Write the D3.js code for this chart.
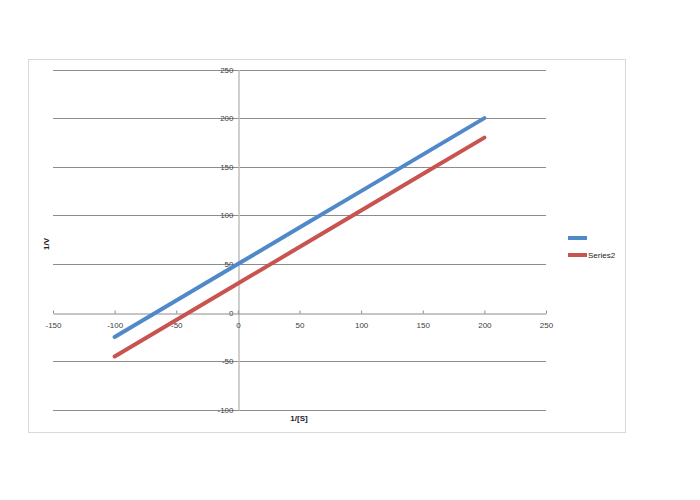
<!DOCTYPE html>
<html><head><meta charset="utf-8">
<script src="https://cdn.jsdelivr.net/npm/d3@7"></script>
<style>body{margin:0;background:#fff}svg{display:block}text{font-family:"Liberation Sans",Arial,sans-serif}</style>
</head><body>
<svg id="c" width="700" height="500"></svg>
<script>
const xValues = [-100, -50, 0, 50, 100, 150, 200];
const series1 = [-25, 12.5, 50, 87.5, 125, 162.5, 200];
const series2 = [-45, -7.5, 30, 67.5, 105, 142.5, 180];
const seriesNames = ["", "Series2"];
const xTicks = [-150, -100, -50, 0, 50, 100, 150, 200, 250];
const yTicks = [-100, -50, 0, 50, 100, 150, 200, 250];
const xTitle = "1/[S]";
const yTitle = "1/V";
const colors = ["#5089C9", "#C9534F"];

const svg = d3.select("#c");
svg.append("rect").attr("x",28.5).attr("y",59.5).attr("width",597).attr("height",373)
  .attr("fill","#fff").attr("stroke","#D9D9D9").attr("stroke-width",1);

const x = d3.scaleLinear().domain([-150,250]).range([53,546]);
const y = d3.scaleLinear().domain([-100,250]).range([410,69.5]);
const fmt = d => String(d);

// gridlines
svg.append("g").selectAll("line").data(yTicks.filter(d=>d!==0)).join("line")
  .attr("x1",x(-150)).attr("x2",x(250))
  .attr("y1",d=>Math.round(y(d))+0.5).attr("y2",d=>Math.round(y(d))+0.5)
  .attr("stroke","#8C8C8C").attr("stroke-width",1);

// y axis at x=0
const yAxis = d3.axisLeft(y).tickValues(yTicks).tickSize(0).tickPadding(5).tickFormat(fmt);
const gy = svg.append("g").attr("transform",`translate(${Math.round(x(0))+0.5},0)`).call(yAxis);
gy.select(".domain").attr("stroke","#BFBFBF").attr("stroke-width",1.5);
gy.selectAll("text").attr("font-size",8).attr("fill","#404040");

// x axis at y=0
const xAxis = d3.axisBottom(x).tickValues(xTicks).tickSize(3).tickSizeOuter(0).tickPadding(6).tickFormat(fmt);
const gx = svg.append("g").attr("transform",`translate(0,${Math.round(y(0))+0.5})`).call(xAxis);
gx.select(".domain").attr("stroke","#8C8C8C");
gx.selectAll(".tick line").attr("stroke","#8C8C8C").attr("y1",-3).attr("y2",0);
gx.selectAll("text").attr("font-size",8).attr("fill","#404040");

// lines
const line = d3.line().x((d,i)=>x(xValues[i])).y(d=>y(d));
[series1, series2].forEach((s,i)=>{
  svg.append("path").datum(s).attr("d",line).attr("fill","none")
    .attr("stroke",colors[i]).attr("stroke-width",4).attr("stroke-linecap","round");
});

// titles
svg.append("text").attr("transform",`translate(49,244) rotate(-90)`).attr("text-anchor","middle")
  .attr("font-size",8).attr("font-weight","bold").attr("fill","#222").text(yTitle);
svg.append("text").attr("x",299).attr("y",421).attr("text-anchor","middle")
  .attr("font-size",8).attr("font-weight","bold").attr("fill","#222").text(xTitle);

// legend
seriesNames.forEach((n,i)=>{
  const ly = 238 + i*17;
  svg.append("line").attr("x1",568).attr("x2",587).attr("y1",ly).attr("y2",ly)
    .attr("stroke",colors[i]).attr("stroke-width",4);
  svg.append("text").attr("x",588).attr("y",ly+3).attr("font-size",8).attr("fill","#222").text(n);
});
</script>
</body></html>
